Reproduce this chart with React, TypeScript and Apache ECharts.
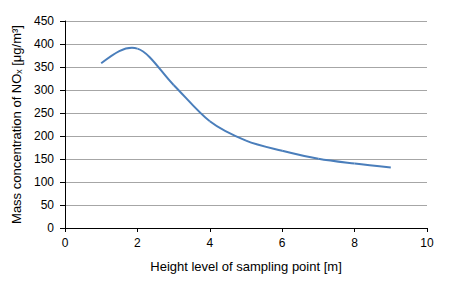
import React, { useEffect, useRef } from "react";
import * as echarts from "echarts";

const heights = [1, 2, 3, 4, 5, 6, 7, 8, 9];
const concentrations = [358, 390, 311, 232, 190, 168, 150.5, 140, 131.5];
const xTicks = [0, 2, 4, 6, 8, 10];
const yTicks = [0, 50, 100, 150, 200, 250, 300, 350, 400, 450];

export default function App() {
  const ref = useRef<HTMLDivElement>(null);
  useEffect(() => {
    if (!ref.current) return;
    const chart = echarts.init(ref.current, null, { renderer: "svg" });
    const font = "Liberation Sans, Arial, sans-serif";
    const n = heights.length;
    chart.setOption({
      animation: false,
      grid: { left: 65, right: 42, top: 21, bottom: 55 },
      xAxis: {
        type: "value",
        min: xTicks[0],
        max: xTicks[xTicks.length - 1],
        interval: 2,
        name: "Height level of sampling point [m]",
        nameLocation: "middle",
        nameGap: 32,
        nameTextStyle: { fontFamily: font, fontSize: 13, color: "#000" },
        axisLine: { show: true, lineStyle: { color: "#000", width: 1 } },
        axisTick: { show: true, length: 4, lineStyle: { color: "#000" } },
        axisLabel: { fontFamily: font, fontSize: 12, color: "#000", margin: 9 },
        splitLine: { show: false },
      },
      yAxis: {
        type: "value",
        min: yTicks[0],
        max: yTicks[yTicks.length - 1],
        interval: 50,
        name: "Mass concentration of NOₓ [μg/m³]",
        nameLocation: "middle",
        nameGap: 41,
        nameTextStyle: { fontFamily: font, fontSize: 13, color: "#000" },
        axisLine: { show: true, lineStyle: { color: "#000", width: 1 } },
        axisTick: { show: true, length: 5, lineStyle: { color: "#000" } },
        axisLabel: { fontFamily: font, fontSize: 12, color: "#000", margin: 11 },
        splitLine: { show: true, lineStyle: { color: "#a6a6a6", width: 1 } },
      },
      series: [
        {
          type: "custom",
          data: heights.map((h, i) => [h, concentrations[i]]),
          renderItem: (params: any, api: any) => {
            const i = params.dataIndex;
            if (i >= n - 1) return null;
            const pt = (j: number) => api.coord([heights[j], concentrations[j]]);
            const p1 = pt(i);
            const p2 = pt(i + 1);
            let c1: number[] | null = null;
            let c2: number[] | null = null;
            if (i > 0) {
              const p0 = pt(i - 1);
              c1 = [p1[0] + (p2[0] - p0[0]) / 6, p1[1] + (p2[1] - p0[1]) / 6];
            }
            if (i + 2 < n) {
              const p3 = pt(i + 2);
              c2 = [p2[0] - (p3[0] - p1[0]) / 6, p2[1] - (p3[1] - p1[1]) / 6];
            }
            if (!c1 && c2) c1 = [p1[0] + (c2[0] - p1[0]) / 2, p1[1] + (c2[1] - p1[1]) / 2];
            if (!c2 && c1) c2 = [p2[0] + (c1[0] - p2[0]) / 2, p2[1] + (c1[1] - p2[1]) / 2];
            if (!c1 || !c2) return null;
            return {
              type: "bezierCurve",
              shape: {
                x1: p1[0],
                y1: p1[1],
                cpx1: c1[0],
                cpy1: c1[1],
                cpx2: c2[0],
                cpy2: c2[1],
                x2: p2[0],
                y2: p2[1],
              },
              style: { stroke: "#4a7ebb", lineWidth: 2, fill: "none" },
            };
          },
        },
      ],
    });
    return () => chart.dispose();
  }, []);
  return <div ref={ref} style={{ width: 469, height: 283, margin: -8 }} />;
}
